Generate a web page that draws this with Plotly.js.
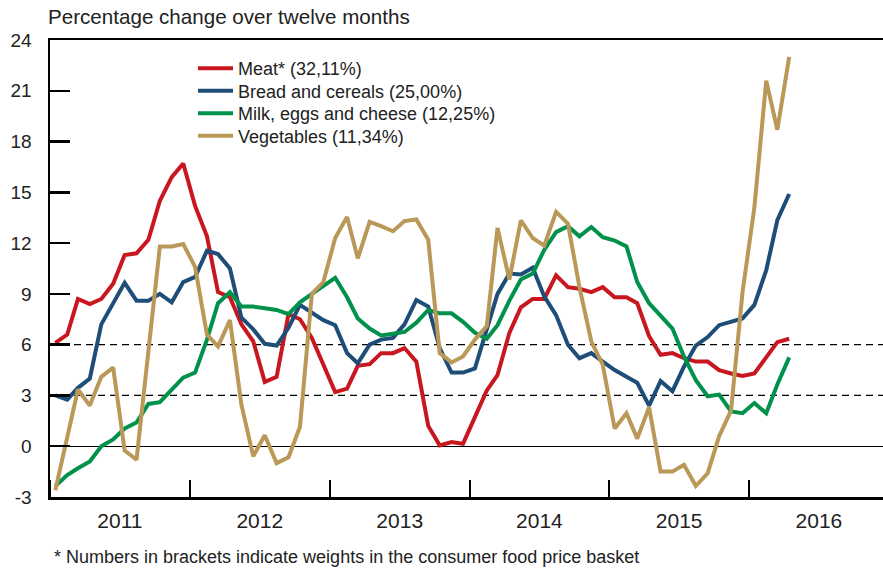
<!DOCTYPE html>
<html><head><meta charset="utf-8">
<script src="https://cdn.plot.ly/plotly-3.0.1.min.js"></script>
<style>html,body{margin:0;padding:0;background:#fff}#chart{width:883px;height:570px}</style>
</head><body><div id="chart"></div>
<script>
// Monthly observations, January 2011 – April 2016 (64 months)
const firstYear = 2011, monthCount = 64;
const months = [];
for (let k = 0; k < monthCount; k++) {
  const yr = firstYear + Math.floor(k / 12), mo = (k % 12) + 1;
  months.push(yr + '-' + String(mo).padStart(2, '0') + '-15');
}

const meat = [6.1, 6.6, 8.7, 8.4, 8.7, 9.6, 11.3, 11.4, 12.2, 14.5,
  15.9, 16.7, 14.2, 12.4, 9.1, 8.8, 7.2, 6.2, 3.8, 4.1,
  7.8, 7.5, 6.4, 4.8, 3.2, 3.4, 4.75, 4.85, 5.5, 5.5,
  5.8, 5.0, 1.2, 0.05, 0.25, 0.15, 1.7, 3.3, 4.2, 6.7,
  8.2, 8.7, 8.7, 10.1, 9.4, 9.3, 9.1, 9.4, 8.8, 8.8,
  8.45, 6.5, 5.4, 5.5, 5.2, 5.0, 5.0, 4.5, 4.3, 4.15,
  4.3, 5.3, 6.15, 6.35];

const bread = [3.0, 2.75, 3.45, 4.0, 7.2, 8.4, 9.65, 8.6, 8.6, 9.0,
  8.5, 9.7, 10.0, 11.55, 11.35, 10.5, 7.6, 6.9, 6.05, 5.95,
  7.0, 8.35, 7.9, 7.45, 7.15, 5.5, 4.9, 6.0, 6.3, 6.4,
  7.2, 8.64, 8.25, 5.8, 4.35, 4.35, 4.6, 6.9, 9.0, 10.2,
  10.15, 10.55, 8.85, 7.75, 6.0, 5.2, 5.5, 5.0, 4.5, 4.1,
  3.75, 2.4, 3.85, 3.25, 4.7, 5.95, 6.45, 7.15, 7.35, 7.55,
  8.35, 10.4, 13.35, 14.9];

const milk = [-2.35, -1.7, -1.3, -0.9, 0.0, 0.4, 1.05, 1.4, 2.5, 2.6,
  3.35, 4.05, 4.35, 6.3, 8.45, 9.1, 8.25, 8.25, 8.15, 8.05,
  7.8, 8.5, 9.0, 9.5, 9.95, 8.8, 7.55, 6.95, 6.55, 6.65,
  6.75, 7.3, 8.05, 7.85, 7.85, 7.35, 6.7, 6.35, 7.15, 8.6,
  9.85, 10.2, 11.6, 12.65, 13.0, 12.4, 12.95, 12.35, 12.15, 11.8,
  9.7, 8.45, 7.75, 6.95, 5.3, 3.9, 2.95, 3.05, 2.05, 1.95,
  2.55, 1.95, 3.65, 5.25];

const vegetables = [-2.6, 0.4, 3.35, 2.4, 4.1, 4.65, -0.25, -0.8, 5.5, 11.8,
  11.8, 11.95, 10.6, 6.6, 5.9, 7.45, 2.45, -0.6, 0.65, -1.0,
  -0.65, 1.15, 9.0, 9.7, 12.3, 13.55, 11.1, 13.25, 13.0, 12.7,
  13.3, 13.4, 12.2, 5.5, 4.95, 5.3, 6.3, 7.1, 12.9, 9.85,
  13.35, 12.3, 11.85, 13.85, 13.15, 9.4, 6.2, 4.8, 1.05, 1.95,
  0.45, 2.3, -1.5, -1.5, -1.1, -2.35, -1.6, 0.6, 2.1, 9.1,
  14.1, 21.6, 18.7, 23.0];

const seriesNames = ['Meat* (32,11%)', 'Bread and cereals (25,00%)',
  'Milk, eggs and cheese (12,25%)', 'Vegetables (11,34%)'];
const seriesColors = ['#C8171F', '#1E4D78', '#00914A', '#BA9858'];
const seriesValues = [meat, bread, milk, vegetables];

const yTickVals = [-3, 0, 3, 6, 9, 12, 15, 18, 21, 24];
const yTickText = ['-3', '0', '3', '6', '9', '12', '15', '18', '21', '24'];
const dashedLevels = [3, 6];

const titleText = 'Percentage change over twelve months';
const footnoteText = '* Numbers in brackets indicate weights in the consumer food price basket';

const FONT = '"Liberation Sans", Arial, Helvetica, sans-serif';
const TXT = '#222222';

// one legend box per series so the row spacing can match the original
const legendIds = ['legend', 'legend2', 'legend3', 'legend4'];
const legendTopsPx = [50, 72.5, 95, 117.5];
const plotTop = 40, plotH = 457, plotL = 50, plotW = 833;

const traces = seriesValues.map((vals, i) => ({
  type: 'scatter', mode: 'lines', x: months, y: vals, name: seriesNames[i],
  legend: legendIds[i],
  line: { color: seriesColors[i], width: 4, shape: 'linear' },
  hoverinfo: 'skip'
}));

const shapes = dashedLevels.map(v => ({
  type: 'line', xref: 'paper', x0: 0, x1: 1, yref: 'y', y0: v, y1: v,
  line: { color: '#000', width: 1.2, dash: '7px,5px' }, layer: 'below'
}));

const layout = {
  width: 883, height: 570,
  margin: { l: plotL, r: 0, t: plotTop, b: 570 - plotTop - plotH },
  paper_bgcolor: '#fff', plot_bgcolor: '#fff',
  font: { family: FONT, color: TXT },
  showlegend: true,
  title: { text: titleText, x: 48 / 883, xanchor: 'left', xref: 'container',
           y: 1 - 17 / 570, yanchor: 'middle', yref: 'container',
           font: { size: 20.6, color: TXT, family: FONT } },
  xaxis: {
    type: 'date', range: ['2011-01-01', '2016-12-16'],
    tick0: '2011-01-01', dtick: 'M12', tickformat: '%Y', ticklabelmode: 'period',
    ticks: 'inside', ticklen: 17, tickwidth: 2, tickcolor: '#000',
    showline: true, linecolor: '#000', linewidth: 2.5, mirror: true,
    showgrid: false, zeroline: false,
    tickfont: { size: 21, color: TXT, family: FONT }, ticklabelstandoff: 3
  },
  yaxis: {
    range: [-3, 24], tickmode: 'array', tickvals: yTickVals, ticktext: yTickText,
    ticks: 'inside', ticklen: 20, tickwidth: 2.5, tickcolor: '#000',
    showline: true, linecolor: '#000', linewidth: 2.5,
    showgrid: false, zeroline: true, zerolinecolor: '#000', zerolinewidth: 1.2,
    tickfont: { size: 19, color: TXT, family: FONT }, ticklabelstandoff: 12
  },
  shapes: shapes,
  annotations: [{
    text: footnoteText, xref: 'paper', yref: 'paper',
    x: 2 / plotW, xanchor: 'left', y: -(557 - 497) / plotH, yanchor: 'middle',
    showarrow: false, font: { size: 18, color: TXT, family: FONT }
  }]
};

legendIds.forEach((id, i) => {
  layout[id] = {
    x: (193 - plotL) / plotW, xanchor: 'left',
    y: 1 - (legendTopsPx[i] - plotTop) / plotH, yanchor: 'top',
    bgcolor: 'rgba(0,0,0,0)', borderwidth: 0, itemwidth: 35,
    font: { size: 18, color: TXT, family: FONT }
  };
});

Plotly.newPlot('chart', traces, layout, { staticPlot: true, displayModeBar: false });
</script>
</body></html>
